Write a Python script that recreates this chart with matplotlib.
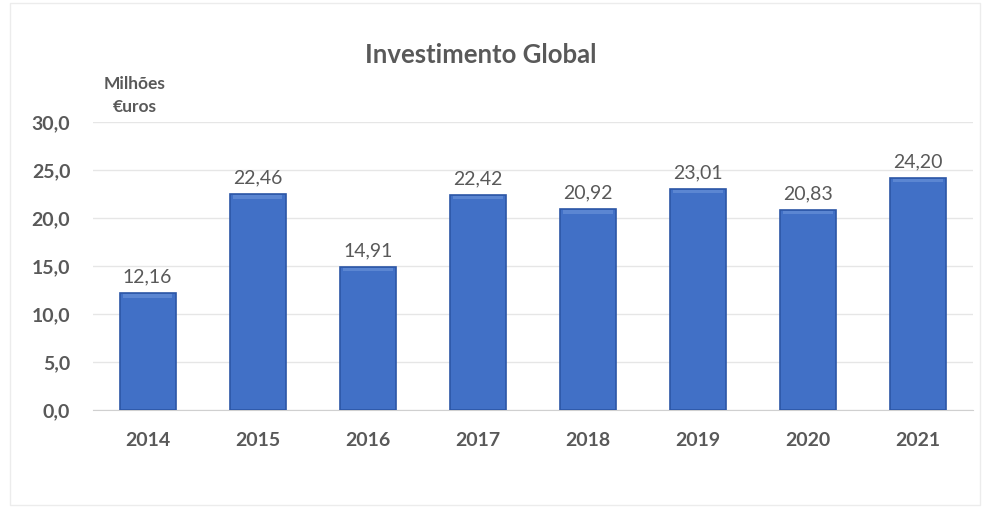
import matplotlib.pyplot as plt

# data
years = ["2014", "2015", "2016", "2017", "2018", "2019", "2020", "2021"]
values = [12.16, 22.46, 14.91, 22.42, 20.92, 23.01, 20.83, 24.20]
y_ticks = [0, 5, 10, 15, 20, 25, 30]

plt.rcParams['font.family'] = ['Lato', 'DejaVu Sans']
txt = '#595959'

fig = plt.figure(figsize=(9.85, 5.15), dpi=100)
ax = fig.add_axes([0.094, 0.204, 0.894, 0.559])

x = range(len(years))
ax.bar(x, values, width=0.51, color='#4170c6', edgecolor='#2c56a6', linewidth=1.2, zorder=3)
# lighter rim at the top of each bar
ax.bar(x, [0.35] * len(values), bottom=[v - 0.45 for v in values], width=0.45,
       color='#5b86d2', linewidth=0, zorder=4)

# value labels
for i, v in enumerate(values):
    ax.text(i, v + 0.8, f"{v:.2f}".replace('.', ','), ha='center', va='bottom',
            fontsize=14, color=txt)

ax.set_xlim(-0.5, len(years) - 0.5)
ax.set_ylim(0, 30)
ax.set_yticks(y_ticks)
ax.set_yticklabels([f"{t:.1f}".replace('.', ',') for t in y_ticks],
                   fontsize=14, fontweight='bold', color=txt)
ax.set_xticks(list(x))
ax.set_xticklabels(years, fontsize=14, fontweight='bold', color=txt)
ax.tick_params(length=0)
ax.tick_params(axis='x', pad=16)
ax.tick_params(axis='y', pad=16)
ax.grid(axis='y', color='#e6e6e6', linewidth=1, zorder=0)
for s in ['top', 'right', 'left']:
    ax.spines[s].set_visible(False)
ax.spines['bottom'].set_color('#d0d0d0')

fig.text(0.488, 0.893, "Investimento Global", ha='center', va='center',
         fontsize=18.5, fontweight='bold', color=txt)
fig.text(0.137, 0.815, "Milhões\n€uros", ha='center', va='center',
         fontsize=12.5, fontweight='bold', color=txt, linespacing=1.5)

# faint frame around the chart
fig.patches.append(plt.Rectangle((0.01, 0.02), 0.985, 0.975, transform=fig.transFigure,
                                 fill=False, edgecolor='#ececec', linewidth=1))

fig.savefig("out.png", dpi=100)
